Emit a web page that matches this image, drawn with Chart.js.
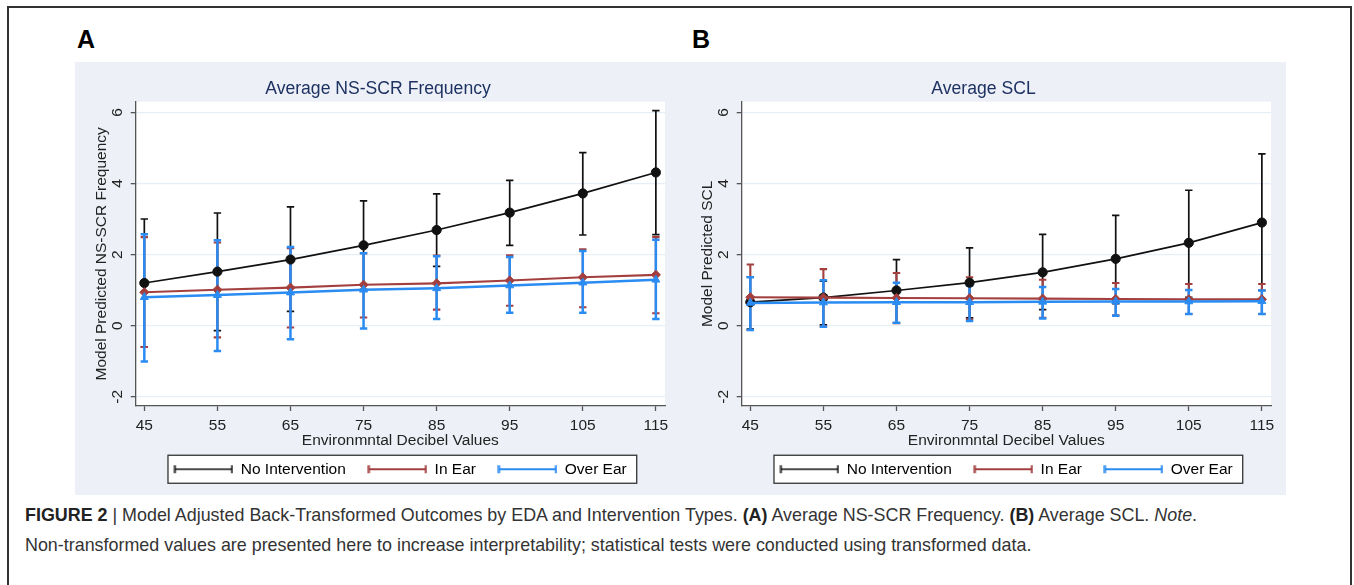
<!DOCTYPE html>
<html>
<head>
<meta charset="utf-8">
<script src="https://cdn.jsdelivr.net/npm/chart.js@4.4.1/dist/chart.umd.min.js"></script>
<style>
  body { margin: 0; background: #fff; font-family: "Liberation Sans", Arial, sans-serif; }
  #frame { position: absolute; left: 7px; top: 6px; width: 1341px; height: 620px; border: 2px solid #333; }
  .tag { position: absolute; top: 25px; font-size: 25px; font-weight: bold; color: #000; }
  .panel { position: absolute; top: 62px; height: 433px; background: #edf1f7; }
  .panel canvas { display: block; }
  #caption { position: absolute; left: 25px; top: 500px; font-size: 17.9px; line-height: 30px; color: #333; white-space: nowrap; }
  #caption b { color: #222; }
</style>
</head>
<body>
<div id="frame"></div>
<div class="tag" style="left:77px">A</div>
<div class="tag" style="left:692px">B</div>
<div class="panel" style="left:75px;width:606px"><canvas id="chartA" width="606" height="433"></canvas></div>
<div class="panel" style="left:681px;width:605px"><canvas id="chartB" width="605" height="433"></canvas></div>
<div id="caption"><b>FIGURE 2</b> | Model Adjusted Back-Transformed Outcomes by EDA and Intervention Types. <b>(A)</b> Average NS-SCR Frequency. <b>(B)</b> Average SCL. <i>Note</i>.<br>Non-transformed values are presented here to increase interpretability; statistical tests were conducted using transformed data.</div>
<script>
// x categories and axis ticks
const decibels = [45, 55, 65, 75, 85, 95, 105, 115];
const yTicks = [-2, 0, 2, 4, 6];
const groups = ["No Intervention", "In Ear", "Over Ear"];

// Panel A: Average NS-SCR Frequency
const nsNone   = [1.20, 1.52, 1.86, 2.26, 2.69, 3.18, 3.72, 4.31];
const nsNoneLo = [-0.60, -0.14, 0.40, 1.02, 1.67, 2.26, 2.55, 2.56];
const nsNoneHi = [3.00, 3.17, 3.34, 3.51, 3.71, 4.09, 4.87, 6.05];
const nsIn     = [0.94, 1.01, 1.07, 1.15, 1.19, 1.27, 1.36, 1.43];
const nsInLo   = [-0.60, -0.33, -0.05, 0.23, 0.45, 0.56, 0.52, 0.35];
const nsInHi   = [2.49, 2.34, 2.18, 2.04, 1.97, 1.98, 2.15, 2.49];
const nsOver   = [0.80, 0.86, 0.93, 1.01, 1.05, 1.13, 1.21, 1.29];
const nsOverLo = [-1.01, -0.71, -0.38, -0.08, 0.19, 0.36, 0.36, 0.19];
const nsOverHi = [2.57, 2.40, 2.21, 2.04, 1.95, 1.93, 2.10, 2.42];

// Panel B: Average SCL
const sclNone   = [0.66, 0.79, 0.99, 1.21, 1.50, 1.88, 2.33, 2.90];
const sclNoneLo = [-0.10, 0.02, 0.08, 0.22, 0.45, 0.62, 0.80, 0.99];
const sclNoneHi = [1.37, 1.25, 1.86, 2.19, 2.57, 3.10, 3.81, 4.83];
const sclIn     = [0.80, 0.79, 0.78, 0.77, 0.76, 0.75, 0.74, 0.74];
const sclInLo   = [-0.12, -0.02, 0.07, 0.18, 0.22, 0.29, 0.33, 0.33];
const sclInHi   = [1.72, 1.59, 1.48, 1.36, 1.29, 1.20, 1.17, 1.17];
const sclOver   = [0.64, 0.65, 0.66, 0.66, 0.67, 0.68, 0.68, 0.69];
const sclOverLo = [-0.12, -0.03, 0.08, 0.13, 0.20, 0.28, 0.33, 0.33];
const sclOverHi = [1.36, 1.28, 1.21, 1.12, 1.09, 1.03, 1.00, 0.99];

const colors = ["#111111", "#a3403f", "#2a8cf2"];
const markers = ["circle", "rectRot", "triangle"];
const lineWidths = [1.7, 2.1, 2.5];
const axisColor = "#555";
const font = "Liberation Sans, Arial, sans-serif";
const fs = 15.5;

// legend symbol: line with end caps, like the error bars
function capLine(color, w) {
  const c = document.createElement("canvas");
  c.width = 60; c.height = 10;
  const g = c.getContext("2d");
  g.strokeStyle = color; g.lineWidth = w;
  g.beginPath();
  g.moveTo(1, 5); g.lineTo(59, 5);
  g.moveTo(1.5, 1); g.lineTo(1.5, 9);
  g.moveTo(58.5, 1); g.lineTo(58.5, 9);
  g.stroke();
  return c;
}

const panelPlugin = {
  id: "panel",
  afterLayout(chart) {
    // centre the panel title on the whole panel, not the padded area
    const t = chart.titleBlock;
    if (t) { t.left = 0; t.right = chart.width; t.width = chart.width; }
  },
  beforeDraw(chart) {
    const { ctx, chartArea: a } = chart;
    ctx.save();
    ctx.fillStyle = "#ffffff";
    ctx.fillRect(a.left, a.top, a.right - a.left, a.bottom - a.top);
    const boxes = chart.legend.legendHitBoxes;
    if (boxes && boxes.length) {
      const last = boxes[boxes.length - 1];
      const l = boxes[0].left - 6;
      const r = last.left + last.width + 10;
      const t = boxes[0].top + boxes[0].height / 2 - 14;
      ctx.fillRect(l, t, r - l, 28);
      ctx.strokeStyle = "#333"; ctx.lineWidth = 1.3;
      ctx.strokeRect(l, t, r - l, 28);
    }
    ctx.restore();
  },
  beforeDatasetsDraw(chart) {
    // error bars, drawn under the lines and markers
    const { ctx, scales: { x, y } } = chart;
    ctx.save();
    chart.data.datasets.forEach(ds => {
      ctx.strokeStyle = ds.borderColor;
      ctx.lineWidth = ds.borderWidth;
      ds.data.forEach((p, i) => {
        const px = x.getPixelForValue(p.x);
        const y0 = y.getPixelForValue(ds.lo[i]);
        const y1 = y.getPixelForValue(ds.hi[i]);
        ctx.beginPath();
        ctx.moveTo(px, y0); ctx.lineTo(px, y1);
        ctx.moveTo(px - 3.7, y0); ctx.lineTo(px + 3.7, y0);
        ctx.moveTo(px - 3.7, y1); ctx.lineTo(px + 3.7, y1);
        ctx.stroke();
      });
    });
    ctx.restore();
  },
  afterDraw(chart) {
    // vertical y tick labels
    const { ctx, chartArea: a, scales: { y } } = chart;
    ctx.save();
    ctx.fillStyle = "#222";
    ctx.font = fs + "px " + font;
    ctx.textAlign = "center";
    ctx.textBaseline = "middle";
    yTicks.forEach(v => {
      ctx.save();
      ctx.translate(a.left - 18, y.getPixelForValue(v));
      ctx.rotate(-Math.PI / 2);
      ctx.fillText(String(v), 0, 0);
      ctx.restore();
    });
    ctx.restore();
  }
};

function makeChart(id, title, yTitle, mids, los, his, rightPad) {
  const datasets = groups.map((g, k) => ({
    label: g,
    data: decibels.map((d, i) => ({ x: d, y: mids[k][i] })),
    lo: los[k],
    hi: his[k],
    borderColor: colors[k],
    backgroundColor: colors[k],
    borderWidth: lineWidths[k],
    pointStyle: markers[k],
    pointRadius: 4.6,
    pointBorderWidth: 1,
    order: 2 - k
  }));
  return new Chart(document.getElementById(id), {
    type: "line",
    data: { datasets },
    options: {
      responsive: false,
      animation: false,
      layout: { padding: { left: 0, right: rightPad, top: 0, bottom: 8 } },
      plugins: {
        title: {
          display: true, text: title, color: "#1e3262",
          font: { family: font, size: 17.6, weight: "normal" },
          padding: { top: 16.8, bottom: 1.8 }
        },
        legend: {
          position: "bottom",
          fullSize: false,
          labels: {
            usePointStyle: true,
            pointStyleWidth: 59,
            padding: 22,
            color: "#111",
            font: { family: font, size: fs },
            generateLabels: chart => chart.data.datasets.map((ds, i) => ({
              text: ds.label, datasetIndex: i, pointStyle: capLine(ds.borderColor, Math.min(ds.borderWidth, 2.2)),
              fillStyle: ds.borderColor, strokeStyle: ds.borderColor, lineWidth: 0, hidden: false
            }))
          }
        },
        tooltip: { enabled: false }
      },
      scales: {
        x: {
          type: "linear", min: 43.82, max: 116.25,
          afterBuildTicks: s => { s.ticks = decibels.map(v => ({ value: v })); },
          afterFit: s => { s.height = 33.5; },
          grid: { drawOnChartArea: false, tickLength: 5, tickColor: axisColor, tickWidth: 1.3 },
          border: { color: axisColor, width: 1.3 },
          ticks: { color: "#222", font: { family: font, size: fs }, padding: 5, maxRotation: 0 },
          title: {
            display: true, text: "Environmntal Decibel Values", color: "#222",
            font: { family: font, size: fs }, padding: { top: 0, bottom: -10.5 }
          }
        },
        y: {
          min: -2.26, max: 6.3,
          afterBuildTicks: s => { s.ticks = yTicks.map(v => ({ value: v })); },
          afterFit: s => { s.width = 60.7; },
          grid: { color: "#e8eef5", lineWidth: 1.3, tickLength: 5, tickColor: axisColor, tickWidth: 1.3 },
          border: { color: axisColor, width: 1.3 },
          ticks: { display: false },
          title: {
            display: true, text: yTitle, color: "#222",
            font: { family: font, size: fs }, padding: { top: 17.3, bottom: 0 }
          }
        }
      }
    },
    plugins: [panelPlugin]
  });
}

makeChart("chartA", "Average NS-SCR Frequency", "Model Predicted NS-SCR Frequency",
  [nsNone, nsIn, nsOver], [nsNoneLo, nsInLo, nsOverLo], [nsNoneHi, nsInHi, nsOverHi], 16);
makeChart("chartB", "Average SCL", "Model Predicted SCL",
  [sclNone, sclIn, sclOver], [sclNoneLo, sclInLo, sclOverLo], [sclNoneHi, sclInHi, sclOverHi], 15);
</script>
</body>
</html>
